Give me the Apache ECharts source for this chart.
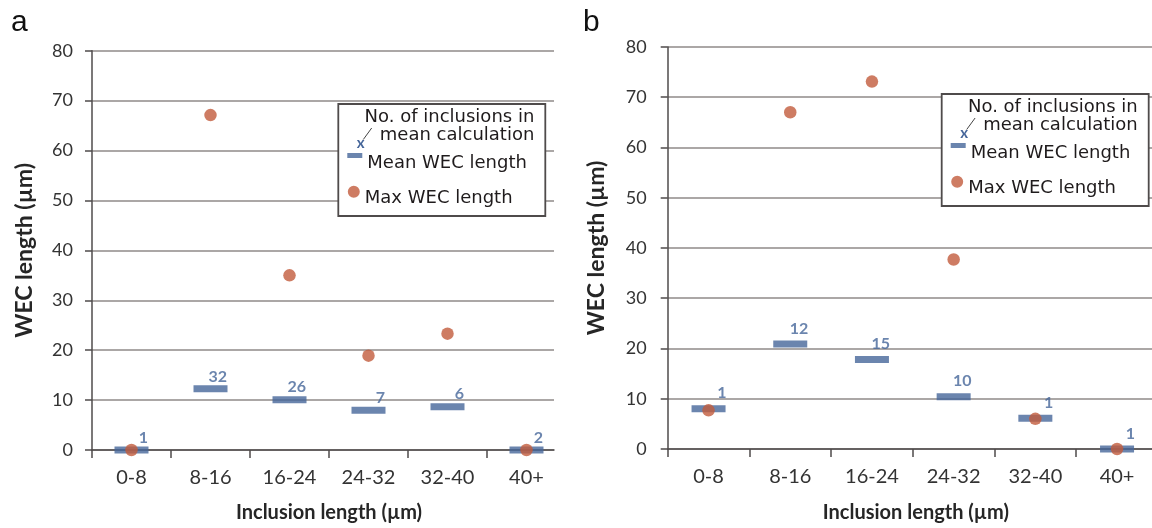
<!DOCTYPE html>
<html><head><meta charset="utf-8">
<script src="https://cdn.jsdelivr.net/npm/echarts@6/dist/echarts.min.js"></script>
<style>html,body{margin:0;padding:0;background:#fff}#c{width:1152px;height:528px}</style>
</head><body><div id="c"></div>
<script>
// ---- data ----
const categories = ['0-8', '8-16', '16-24', '24-32', '32-40', '40+'];
const yTicks = [0, 10, 20, 30, 40, 50, 60, 70, 80];
const meanA = [0, 12.25, 10.05, 7.95, 8.65, 0];
const maxA = [0, 67.1, 35.0, 18.9, 23.3, 0];
const countA = [1, 32, 26, 7, 6, 2];
const meanB = [8.0, 20.9, 17.8, 10.4, 6.1, 0];
const maxB = [7.7, 67.0, 73.1, 37.7, 6.0, 0];
const countB = [1, 12, 15, 10, 1, 1];
const panelLetters = ['a', 'b'];
const xTitle = 'Inclusion length (µm)';
const yTitle = 'WEC length (µm)';
const meanName = 'Mean WEC length';
const maxName = 'Max WEC length';
const noteLines = ['No. of inclusions in', 'mean calculation'];

// ---- styles ----
const BLUE = '#46669a';
const ORANGE = '#c25b3c';
const GRID = '#8f8a89';
const AXIS = '#4f4b4b';
const TXT = '#333333';

const chart = echarts.init(document.getElementById('c'), null, {renderer: 'canvas'});

const catIdx = categories.map((c, i) => i);
const tickPos = categories.map((c, i) => i - 0.5);
const pts = arr => arr.map((v, i) => [i, v]);

function xAxisFor(gi, max, gap) {
  return {
    gridIndex: gi, type: 'value', min: -0.5, max: max,
    splitLine: {show: false},
    axisLine: {show: true, onZero: false, lineStyle: {color: AXIS, width: 1.5}},
    axisTick: {show: true, length: 8, customValues: tickPos, lineStyle: {color: AXIS, width: 1.5}},
    axisLabel: {customValues: catIdx, formatter: v => categories[Math.round(v)],
      fontFamily: 'Lato', fontSize: 20, color: TXT, margin: 18},
    name: xTitle, nameLocation: 'middle', nameGap: gap,
    nameTextStyle: {fontFamily: 'Lato', fontWeight: 'bold', fontSize: 20, color: '#262626', padding: [0, 0, 0, 12]}
  };
}
function yAxisFor(gi, margin, gap) {
  return {
    gridIndex: gi, type: 'value', min: yTicks[0], max: yTicks[yTicks.length - 1], interval: 10,
    splitLine: {show: true, lineStyle: {color: GRID, width: 1.5}},
    axisLine: {show: true, onZero: false, lineStyle: {color: AXIS, width: 1.5}},
    axisTick: {show: true, length: 7, lineStyle: {color: AXIS, width: 1.5}},
    axisLabel: {fontFamily: 'Lato', fontSize: 18, color: TXT, margin: margin},
    name: yTitle, nameLocation: 'middle', nameGap: gap,
    nameTextStyle: {fontFamily: 'Lato', fontWeight: 'bold', fontSize: 23, color: '#262626'}
  };
}
function meanSeries(gi, vals, counts, lp) {
  return {
    name: meanName, type: 'scatter', xAxisIndex: gi, yAxisIndex: gi,
    symbol: 'rect', symbolSize: [34, 7], itemStyle: {color: BLUE},
    data: pts(vals), z: 3,
    label: {show: true, position: lp, align: 'right', verticalAlign: 'middle',
      formatter: p => String(counts[p.dataIndex]),
      fontFamily: 'Lato', fontWeight: 'bold', fontSize: 16, color: BLUE}
  };
}
function maxSeries(gi, vals) {
  return {
    name: maxName, type: 'scatter', xAxisIndex: gi, yAxisIndex: gi,
    symbol: 'circle', symbolSize: 12.5, itemStyle: {color: ORANGE},
    data: pts(vals), z: 4
  };
}

const meanIcon = 'path://M0,0h15v5h-15z M0,21h0.01v0.01h-0.01z';
const maxIcon = 'path://M0,6a6,6 0 1,0 12,0a6,6 0 1,0 -12,0z M0,25h0.01v0.01h-0.01z';
const legTxt = {fontFamily: 'DejaVu Sans', fontSize: 18, color: '#1f1b1c'};

function legendBox(bx, by) {
  const g = [
    {type: 'rect', z: 20, shape: {x: bx, y: by, width: 207, height: 112},
      style: {fill: '#fff', stroke: AXIS, lineWidth: 1.8}},
    {type: 'text', z: 21, x: bx + 196, y: by + 13.5,
      style: {text: noteLines[0], align: 'right', verticalAlign: 'middle', font: '18px "DejaVu Sans"', fill: '#1f1b1c'}},
    {type: 'text', z: 21, x: bx + 196, y: by + 31.5,
      style: {text: noteLines[1], align: 'right', verticalAlign: 'middle', font: '18px "DejaVu Sans"', fill: '#1f1b1c'}},
    {type: 'line', z: 21, shape: {x1: bx + 33.4, y1: by + 24, x2: bx + 25, y2: by + 35.5},
      style: {stroke: '#444', lineWidth: 1}},
    {type: 'text', z: 21, x: bx + 22.4, y: by + 39,
      style: {text: 'x', align: 'center', verticalAlign: 'middle', font: 'bold 15px Lato', fill: BLUE}}
  ];
  const l = [
    {data: [{name: meanName, icon: meanIcon}], left: bx + 9, top: by + 49, padding: 0,
      itemWidth: 15, itemHeight: 21, itemGap: 0, textStyle: legTxt, z: 30, selectedMode: false},
    {data: [{name: maxName, icon: maxIcon}], left: bx + 9.5, top: by + 81.7, padding: 0,
      itemWidth: 12, itemHeight: 25, itemGap: 0, textStyle: legTxt, z: 30, selectedMode: false}
  ];
  return {g, l};
}
const LA = legendBox(338.3, 104);
const LB = legendBox(941.7, 94);

const letterGraphics = [
  {type: 'text', x: 11, y: 22.5, style: {text: panelLetters[0], verticalAlign: 'middle', font: '30px "Liberation Sans"', fill: '#111'}},
  {type: 'text', x: 583, y: 22.5, style: {text: panelLetters[1], verticalAlign: 'middle', font: '30px "Liberation Sans"', fill: '#111'}}
];

chart.setOption({
  animation: false,
  backgroundColor: '#fff',
  grid: [
    {left: 92, top: 50.7, width: 462, height: 400.3},
    {left: 667.7, top: 46.9, width: 484.3, height: 406.4}
  ],
  xAxis: [xAxisFor(0, -0.5 + 462 / 79, 53), xAxisFor(1, -0.5 + 484.3 / 81.7, 54)],
  yAxis: [yAxisFor(0, 19, 56), yAxisFor(1, 21, 60)],
  legend: [...LA.l, ...LB.l],
  series: [
    meanSeries(0, meanA, countA, [33.5, -9]),
    maxSeries(0, maxA),
    meanSeries(1, meanB, countB, [35, -12]),
    maxSeries(1, maxB)
  ],
  graphic: {elements: [...letterGraphics, ...LA.g, ...LB.g]}
});
</script></body></html>
